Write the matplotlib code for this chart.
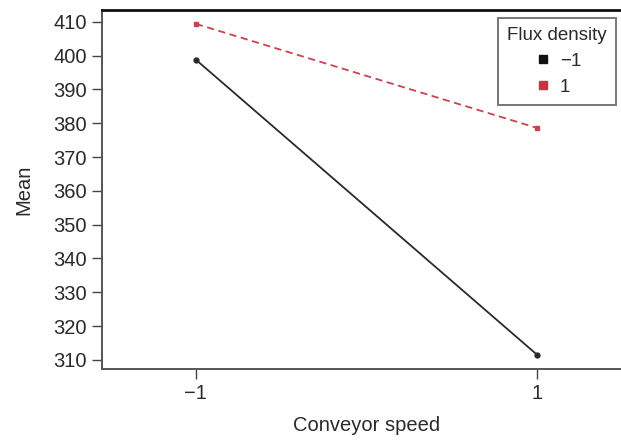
import matplotlib
matplotlib.use("Agg")
import matplotlib.pyplot as plt
from matplotlib.lines import Line2D

plt.rcParams['font.family'] = ['Liberation Sans', 'DejaVu Sans']

speed = [-1, 1]
mean_neg = [398.8, 311.5]
mean_pos = [409.4, 378.6]
series_labels = ['\u22121', '1']
xtick_labels = ['\u22121', '1']
yticks = list(range(310, 411, 10))

fig = plt.figure(figsize=(6.21, 4.44), dpi=100)
ax = fig.add_axes([102/621, 1-369/444, (631-102)/621, (369-10)/444])

ax.plot(speed, mean_neg, color='#2a2a2a', lw=1.3, ls='-', marker='o', ms=3.5, zorder=3)
ax.plot(speed, mean_pos, color='#c8434f', lw=1.3, ls=(0, (4, 2.5)), marker='s', ms=3, zorder=3)

ax.set_xlim(-1.55, 1.55)
ax.set_ylim(307.3, 413.5)
ax.set_xticks(speed)
ax.set_xticklabels(xtick_labels)
ax.set_yticks(yticks)
ax.tick_params(labelsize=14.5, colors='#444444', length=7, width=1, pad=4)
ax.tick_params(axis='both', labelcolor='#2a2a2a')
for s in ax.spines.values():
    s.set_color('#555555')
    s.set_linewidth(1.4)
ax.spines['top'].set_color('#111111')
ax.spines['top'].set_linewidth(2.0)
ax.set_xlabel('Conveyor speed', fontsize=14.5, color='#2a2a2a', labelpad=9)
ax.set_ylabel('Mean', fontsize=14.5, color='#2a2a2a', labelpad=14)

handles = [Line2D([], [], color='#111111', marker='s', ls='none', ms=5.5),
           Line2D([], [], color='#c8343f', marker='s', ls='none', ms=5.5)]
leg = ax.legend(handles, series_labels, title='Flux density', loc='upper left',
                bbox_to_anchor=((498-102)/529, (369-18)/359), fontsize=13.5, title_fontsize=13.5,
                frameon=True, fancybox=False, edgecolor='#555555', handletextpad=0.4,
                borderpad=0.5, borderaxespad=0, labelspacing=0.45, handlelength=1.0)
leg.get_frame().set_linewidth(1.4)
leg._legend_box.align = 'center'
leg.get_title().set_color('#2a2a2a')
for t in leg.get_texts():
    t.set_color('#2a2a2a')

fig.savefig('out.png', dpi=100)
